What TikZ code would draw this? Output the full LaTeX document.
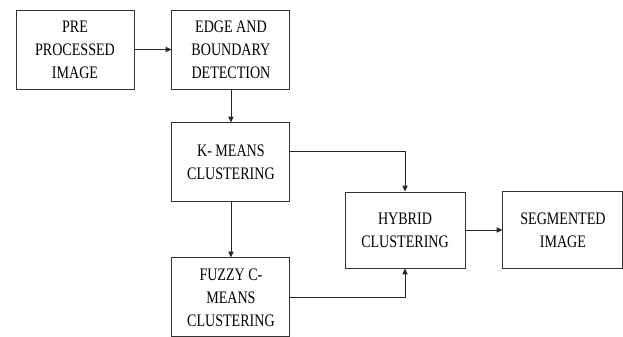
\documentclass[tikz,border=0pt]{standalone}
\usepackage{fontspec}
\setmainfont{Liberation Serif}
\newfontfamily\blockfont[FakeStretch=0.8]{Liberation Serif}
\usetikzlibrary{positioning, arrows.meta}

\begin{document}
\begin{tikzpicture}[
    x=0.03cm, y=-0.03cm,
    node distance = 1.11cm,
    blk/.style = {draw=black!80, line width=0.8pt, fill=white,
                  minimum width=3.54cm, minimum height=2.37cm,
                  align=center, font=\blockfont\fontsize{15}{19.6}\selectfont},
    arr/.style = {-{Triangle[length=5pt, width=4.5pt]}, line width=0.7pt, black!85},
  ]
    \useasboundingbox (0,0) rectangle (623,336);
    \node[blk] (pre) at (75,49.5) {PRE\\PROCESSED\\IMAGE};
    \node[blk, right=of pre] (edge) {EDGE AND\\BOUNDARY\\DETECTION};
    \node[blk, below=0.99cm of edge] (kmeans) {K- MEANS\\CLUSTERING};
    \node[blk, below=1.65cm of kmeans] (fuzzy) {FUZZY C-\\MEANS\\CLUSTERING};
    \node[blk, minimum width=3.6cm, minimum height=2.28cm] (hybrid) at (405,230)
      {HYBRID\\CLUSTERING};
    \node[blk, right=of hybrid, minimum width=3.6cm, minimum height=2.31cm] (seg)
      {SEGMENTED\\IMAGE};
    \draw[arr] (pre) -- (edge);
    \draw[arr] (edge) -- (kmeans);
    \draw[arr] (kmeans) -- (fuzzy);
    \draw[arr] ([yshift=0.33cm]kmeans.east) -| (hybrid.north);
    \draw[arr] (fuzzy.east) -| (hybrid.south);
    \draw[arr] (hybrid) -- (seg);
  \end{tikzpicture}
\end{document}
